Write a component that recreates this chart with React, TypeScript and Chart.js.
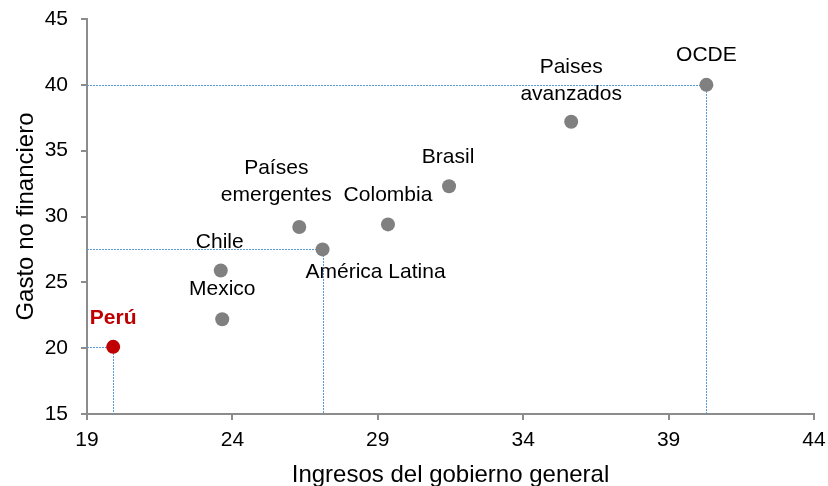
import React, { useEffect, useRef } from "react";
import { Chart, registerables } from "chart.js";

Chart.register(...registerables);

// ---- data ----
const names = [
  "Perú",
  "Mexico",
  "Chile",
  "Países emergentes",
  "América Latina",
  "Colombia",
  "Brasil",
  "Paises avanzados",
  "OCDE",
];
const ingresos = [19.9, 23.65, 23.6, 26.3, 27.1, 29.35, 31.45, 35.65, 40.3];
const gasto = [20.1, 22.2, 25.9, 29.2, 27.5, 29.4, 32.3, 37.2, 40.0];
const xTicks = [19, 24, 29, 34, 39, 44];
const yTicks = [15, 20, 25, 30, 35, 40, 45];
const guideNames = ["OCDE", "América Latina", "Perú"];
const highlightName = "Perú";
const xTitle = "Ingresos del gobierno general";
const yTitle = "Gasto no financiero";

// ---- styles ----
const FONT = "'Liberation Sans', Arial, sans-serif";
const GRAY = "#808080";
const RED = "#c00000";
const AXIS = "#8c8c8c";
const GUIDE = "#5b9bd5";
const labelStyle: Record<string, { dx: number; dy: number; lines?: string[] }> = {
  "Perú": { dx: 0, dy: -29 },
  "Mexico": { dx: 0, dy: -30 },
  "Chile": { dx: -1, dy: -28 },
  "Países emergentes": { dx: -23, dy: -45, lines: ["Países", "emergentes"] },
  "América Latina": { dx: 53, dy: 23 },
  "Colombia": { dx: 0, dy: -29 },
  "Brasil": { dx: -1, dy: -29 },
  "Paises avanzados": { dx: 0, dy: -41, lines: ["Paises", "avanzados"] },
  "OCDE": { dx: 0, dy: -30 },
};

const guidePlugin = {
  id: "guides",
  beforeDatasetsDraw(chart: any) {
    const { ctx, chartArea, scales } = chart;
    ctx.save();
    ctx.strokeStyle = GUIDE;
    ctx.lineWidth = 1;
    ctx.setLineDash([2, 1]);
    guideNames.forEach((n) => {
      const i = names.indexOf(n);
      const px = Math.round(scales.x.getPixelForValue(ingresos[i]));
      const py = Math.round(scales.y.getPixelForValue(gasto[i]));
      ctx.beginPath();
      ctx.moveTo(chartArea.left, py + 0.5);
      ctx.lineTo(px, py + 0.5);
      ctx.moveTo(px + 0.5, py);
      ctx.lineTo(px + 0.5, chartArea.bottom);
      ctx.stroke();
    });
    ctx.restore();
  },
};

const labelPlugin = {
  id: "pointLabels",
  afterDatasetsDraw(chart: any) {
    const { ctx, scales } = chart;
    ctx.save();
    ctx.textAlign = "center";
    ctx.textBaseline = "middle";
    names.forEach((n, i) => {
      const st = labelStyle[n] || { dx: 0, dy: -30 };
      const lines = st.lines || [n];
      const px = scales.x.getPixelForValue(ingresos[i]);
      const py = scales.y.getPixelForValue(gasto[i]);
      const isHi = n === highlightName;
      ctx.font = `${isHi ? "bold " : ""}21px ${FONT}`;
      ctx.fillStyle = isHi ? RED : "#000000";
      const lh = 27;
      const y0 = py + st.dy - ((lines.length - 1) * lh) / 2;
      lines.forEach((l, k) => ctx.fillText(l, px + st.dx, y0 + k * lh));
    });
    ctx.restore();
  },
};

export default function App() {
  const ref = useRef<HTMLCanvasElement | null>(null);

  useEffect(() => {
    if (!ref.current) return;
    const colors = names.map((n) => (n === highlightName ? RED : GRAY));
    const chart = new Chart(ref.current, {
      type: "scatter",
      data: {
        datasets: [
          {
            label: "Países",
            data: names.map((_, i) => ({ x: ingresos[i], y: gasto[i] })),
            pointBackgroundColor: colors,
            pointBorderColor: colors,
            pointBorderWidth: 0,
            pointRadius: 7,
            pointHoverRadius: 7,
          },
        ],
      },
      options: {
        animation: false,
        responsive: true,
        maintainAspectRatio: false,
        layout: { padding: { top: 19, right: 14, left: 0, bottom: 0 } },
        plugins: { legend: { display: false }, tooltip: { enabled: false } },
        scales: {
          x: {
            type: "linear",
            min: xTicks[0],
            max: xTicks[xTicks.length - 1],
            afterBuildTicks: (s: any) => {
              s.ticks = xTicks.map((v) => ({ value: v }));
            },
            afterFit: (s: any) => {
              s.height = 72;
              s.paddingLeft = 0;
              s.paddingRight = 0;
            },
            grid: {
              drawOnChartArea: false,
              drawTicks: true,
              tickLength: 6,
              color: AXIS,
              lineWidth: 2,
            },
            border: { display: true, color: AXIS, width: 2 },
            ticks: {
              color: "#000",
              font: { family: FONT, size: 21 },
              padding: 8,
              maxRotation: 0,
            },
            title: {
              display: true,
              text: xTitle,
              color: "#000",
              font: { family: FONT, size: 24 },
              padding: { top: 0, bottom: -4 },
            },
          },
          y: {
            type: "linear",
            min: yTicks[0],
            max: yTicks[yTicks.length - 1],
            afterBuildTicks: (s: any) => {
              s.ticks = yTicks.map((v) => ({ value: v }));
            },
            afterFit: (s: any) => {
              s.width = 87;
              s.paddingTop = 0;
              s.paddingBottom = 0;
            },
            grid: {
              drawOnChartArea: false,
              drawTicks: true,
              tickLength: 6,
              color: AXIS,
              lineWidth: 2,
            },
            border: { display: true, color: AXIS, width: 2 },
            ticks: {
              color: "#000",
              font: { family: FONT, size: 21 },
              padding: 13,
            },
            title: {
              display: true,
              text: yTitle,
              color: "#000",
              font: { family: FONT, size: 24 },
              padding: { top: 12, bottom: 0 },
            },
          },
        },
      },
      plugins: [guidePlugin, labelPlugin],
    });
    return () => chart.destroy();
  }, []);

  return (
    <div style={{ position: "fixed", left: 0, top: 0, width: 828, height: 486 }}>
      <canvas ref={ref} />
    </div>
  );
}
